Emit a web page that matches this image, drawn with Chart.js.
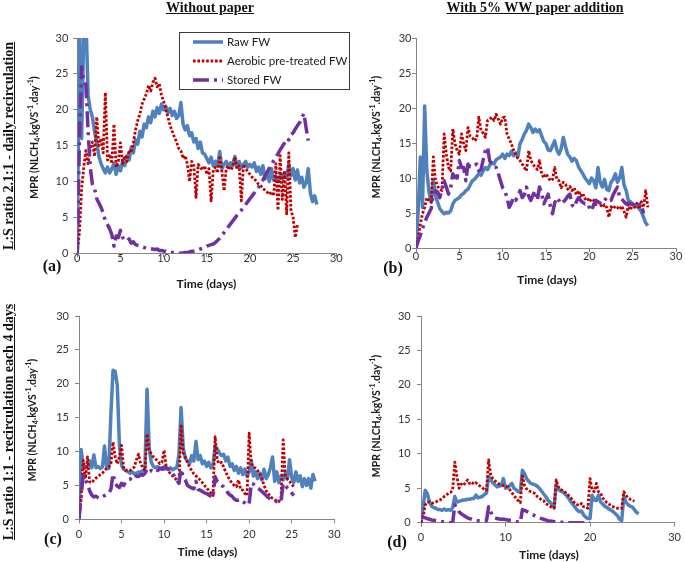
<!DOCTYPE html>
<html><head><meta charset="utf-8">
<script src="https://cdn.jsdelivr.net/npm/chart.js@4.4.1/dist/chart.umd.min.js"></script>
<style>
body{margin:0;background:#fff;}
#wrap{position:relative;width:685px;height:562px;overflow:hidden;background:#fff;}
canvas{position:absolute;}
.t{position:absolute;font-family:"Liberation Serif","Times New Roman",serif;font-weight:bold;color:#111;white-space:nowrap;transform:translate(-50%,-50%);}
.h{font-size:14px;text-decoration:underline;}
.r{font-size:14px;text-decoration:underline;transform:translate(-50%,-50%) rotate(-90deg);}
.p{font-size:16px;}
</style></head>
<body><div id="wrap">
<canvas id="ca" width="355" height="290" style="left:0;top:0;width:355px;height:290px"></canvas>
<canvas id="cb" width="340" height="290" style="left:345px;top:0;width:340px;height:290px"></canvas>
<canvas id="cc" width="345" height="272" style="left:0;top:290px;width:345px;height:272px"></canvas>
<canvas id="cd" width="340" height="272" style="left:345px;top:290px;width:340px;height:272px"></canvas>
<div class="t h" style="left:210px;top:8px">Without paper</div>
<div class="t h" style="left:535px;top:8px">With 5% WW paper addition</div>
<div class="t r" style="left:9px;top:146px">L:S ratio 2.1:1 - daily recirculation</div>
<div class="t r" style="left:9px;top:422px">L:S ratio 1:1 - recirculation each 4 days</div>
<div class="t p" style="left:52px;top:266px">(a)</div>
<div class="t p" style="left:393px;top:268px">(b)</div>
<div class="t p" style="left:53px;top:539px">(c)</div>
<div class="t p" style="left:397px;top:542px">(d)</div>
</div>
<script>
// ---- data (time in days, MPR in NLCH4.kgVS-1.day-1) ----
const seriesNames = ['Raw FW', 'Aerobic pre-treated FW', 'Stored FW'];
const xTicksMain = [0, 5, 10, 15, 20, 25, 30];
const xTicksD = [0, 10, 20, 30];
const yTicks = [0, 5, 10, 15, 20, 25, 30];
const days = [0,0.25,0.5,0.75,1,1.25,1.5,1.75,2,2.25,2.5,2.75,3,3.25,3.5,3.75,
4,4.25,4.5,4.75,5,5.25,5.5,5.75,6,6.25,6.5,6.75,7,7.25,7.5,7.75,
8,8.25,8.5,8.75,9,9.25,9.5,9.75,10,10.25,10.5,10.75,11,11.25,11.5,11.75,
12,12.25,12.5,12.75,13,13.25,13.5,13.75,14,14.25,14.5,14.75,15,15.25,15.5,15.75,
16,16.25,16.5,16.75,17,17.25,17.5,17.75,18,18.25,18.5,18.75,19,19.25,19.5,19.75,
20,20.25,20.5,20.75,21,21.25,21.5,21.75,22,22.25,22.5,22.75,23,23.25,23.5,23.75,
24,24.25,24.5,24.75,25,25.25,25.5,25.75,26,26.25,26.5,26.75,27,27.25,27.5,27.75];

// (a) daily recirculation, without paper
const aRaw = [0,32,16,31,33,22,20,19, 17,15.5,13.5,12.5,11.8,11.2,12,11.2,
11.8,12.5,11,12.2,11.5,12.8,12.2,13.6, 13,14.8,14,15.8,15.2,17,16.2,18,
17.5,19,18.2,19.8,19,20.3,19.5,20.8, 20,20.5,19.6,20.2,19.2,19.8,18.8,19.2,
21,18,17.2,17.8,16.4,16.8,15.5,16, 14.6,15.5,14,13.8,13.2,12.6,13.4,12.2,
12.8,12.2,14.2,11.8,12.4,12.8,12,12.6, 12.2,13.5,12,12.8,11.9,12.4,12.8,12,
12.4,12,12.6,11.4,12,11,12.2,10.4, 11,10,11.8,10.2,10.8,10,10.8,10.4,
11.2,10.6,12.4,10.8,11.8,10.2,11.6,9.8, 10.6,9.2,9.8,11.8,8.4,7.2,8,6.8];
const aAer = [0,3,9,12,14.3,12.5,14.5,15.5, 13.5,19,15,16,14,22.4,13,13.8,
12.5,18,12,12.8,15.4,12.5,13.6,12.8, 14.4,14,15.5,17.2,18.5,19.4,20.8,21.5,
22.2,23.4,22.6,23.8,24.4,23.2,23.6,22,
21.2,20,19,17.8,17,16.2,15.5,14.6, 14.3,13.2,13.6,12.4,10,12.8,12.2,7.8,
12.4,12,11.6,12.2,11,11.8,7.3,11.6, 12,11.2,13.6,11.4,8.7,11.8,12.2,11.6,
12,13.4,11.8,12.2,7.3,12.4,11.8,11.4, 11,10.6,10.4,10,9.6,9.4,9,8.8,
8.5,8.2,8.6,8,12.5,6,13.6,7.5, 11.5,5.5,14,6,5,2.2,4];
const aSto = [0,16,26,24,23.5,17,12,9.6, 9,7.6,7,6.4,5.6,4.5,4,3.4,
2.6,1,2.4,2.2,3.2,2.2,1.8,1.7, 2,1.4,1.6,1.2,1.1,1,0.9,0.8,
0.7,0.6,0.6,0.6,0.5,0.6,0.4,0.4, 0.3,0.3,0.2,0.1,0.1,0.05,0,0,
0,0.05,0.1,0.1,0.2,0.3,0.3,0.4, 0.5,0.6,0.7,0.8,1,1.1,1.2,1.3,
1.5,1.8,2.1,2.5,2.9,3.3,3.7,4.1, 4.5,4.9,5.3,5.7,6,6.4,6.8,7.2,
7.6,8,8.4,8.8,9.2,9.7,10.2,10.8, 11.3,11.9,12.4,12.9,13.4,13.9,14.4,14.9,
15.4,16,15.8,16.5,16.8,17.3,17.8,18.2, 18.8,19.5,17.5,15.7];

// (b) daily recirculation, with 5% paper
const bRaw = [0,5.3,13,5.8,20.3,11,8,6.5, 9.6,7.5,6.5,5.6,5.2,4.9,5.1,5,
5.3,6.3,6.8,7,7.2,7.6,7.8,8.2, 8.4,9,9.6,9.8,10.2,10.6,10.4,11,
11.5,11.2,11.8,12.2,12,12.6,12.8,13, 13.4,12.8,13.4,13.2,13.8,13.2,13.6,13,
14.9,15.5,16.3,16.8,17.7,17.2,16.5,17, 16.6,16.9,16,15.2,14.9,14,13.9,14.6,
15.3,14,13.4,14.2,15.8,14.5,13.4,13, 12.4,12.8,12.5,11.6,11.1,10.6,10,9.6,
9.2,10,9.6,8.6,11.5,9.4,8.7,9.8, 8.4,8.2,9.4,9.8,10.6,9.4,10,11.5,
9,8.2,6.8,6.6,6.3,6.1,6,5.6, 5.2,4.4,3.6,3.2];
const bAer = [0,1.5,3.4,4.9,5.8,7.2,6.8,6.6, 13,9.6,8.8,8.4,8.2,16.3,13.4,11.5,
11,17,14.9,13.9,13.4,16.3,14.9,13.9, 17.2,16,15.8,15.3,15.6,18.7,16.8,16.4,
15.8,18.2,18.4,18.7,18.2,19.1,18.4,17.7, 18.6,18.7,16.3,15.6,14.9,14,13.4,12.8,
12.5,12,11.5,11,13.9,12.5,12,11.5, 11.2,12.5,10.6,10,10.6,10.1,9.6,9.8,
11.5,9.8,9.6,8.6,9.4,9.1,8.4,8.8, 8.2,8.6,7.6,8.2,7.4,7.8,7,7.2,
6.6,7,6.8,6.2,6.6,6.3,5.8,6.2, 5.8,4.4,5.9,5.6,6,5.8,5.5,6,
5.2,4.4,6.2,5.4,6.3,5.8,6.4,5.6, 6.6,5.8,8.2,5.8];
const bSto = [0,1,1.8,2.8,3.6,4.4,5,5.6, 7.7,8.2,8,7.2,8.4,9.6,8.7,7.7,
8.6,10.6,10.1,10,12.5,11.5,11.5,9.6, 12,11.6,11.5,11.8,12,11,11.2,12.6,
13.9,14.4,12.5,11.8,11.5,11.5,10.6,9.6, 8.6,8.2,7.2,5.8,6.4,7.2,6.8,7.4,
8.2,7.2,7.6,8.7,7.4,6.8,7.6,8.2, 6.8,8.7,7.7,6.3,7,7.7,6,4.9,
6.4,7.2,6.8,6.3,6.6,6.9,7.4,7.7, 6.2,5.8,6.6,7.2,6.8,6.5,6.3,6.4,
5.8,5.3,6.2,6.8,6.6,6.4,6.3,6.8, 7.2,6.9,6.8,7.6,8.2,8.7,7.2,7,
6.6,6.3,6.4,6.3,6.2,6,5.8,6.2, 6.3,4.9];

// (c) recirculation each 4 days, without paper
const cRaw = [0,10.3,7.7,7.8,7.6,8.6,7.6,9.5, 7.6,7.8,7.5,7.7,10.8,7.6,7.5,15.5,
22,21.8,19.8,11,8,7.4,7.2,7, 6.8,7,6.7,6.8,7,6.9,7.2,7.4,
19.2,10.5,8.4,7.8,7.6,7.8,7.5,7.6, 7.4,7.6,7.4,7.6,7.3,7.5,7.6,9.6,
16.5,10.5,9,8.6,8.2,9.4,8.6,11.5, 8.8,9.4,8.2,8.6,7.8,8.4,7.6,8,
10.8,10.4,9.8,9.4,9.6,8.6,9.2,7.8, 8.2,7.2,7.8,6.8,7.6,6.6,7.4,6.4,
7,8.7,6.4,7,6,6.8,5.8,7.4, 6,6.6,7.6,9.2,5.6,7,5.4,6.4,
5.8,6.8,6,8.8,6.2,5.4,7,5.6, 6.4,4.8,6,5,6,4.6,6.6,5.6];
const cAer = [0,3,8.7,6,9.2,5.5,5.4,5.8, 6.1,6.3,6.6,6.8,7.2,7.5,7.7,8.2,
11.4,9.2,8.2,9.2,10.9,7.6,7.2,7.3, 7.2,7.5,7.7,8.8,9.6,8.2,7.6,7.2,
12.6,10.2,9.6,9.2,8.9,8.6,8.2,8.4, 10.2,7.7,7.2,6.7,6.4,6.1,5.8,5.4,
14,9.8,9.2,8.4,7.7,7.2,6.7,6.4, 6.1,5.8,5.4,5,4.6,4.3,3.8,3.5,
12.2,8.7,8.2,8.4,7.7,7,6.3,5.8, 5.3,5,4.8,5.8,4.4,4.3,3.8,3.5,
12.7,8.2,7.8,7.5,7.2,6.7,6,5, 4.2,3.8,3.3,3.1,2.9,2.7,2.6,3.2,
11.7,6.3,5.9,5.6,5.2,4.8];
const cSto = [0,3.5,6.5,5.8,5.3,4.2,3.6,3.3, 3.4,3.2,3.1,3.3,3.5,3.7,3.9,4.4,
6.7,5.3,4.9,4.7,5.3,5,5.5,5.8, 5.9,6.3,6.1,6.4,6.3,6.6,6.5,6.8,
7.4,7,7.2,7.1,7.4,7.2,7.5,7.4, 7.7,7.6,7.4,7,6.8,6.3,5.8,5.3,
7.4,6.2,5.8,5,4.8,4.6,4.5,5.6, 4.4,4.3,4.1,3.9,3.8,3.6,3.4,3.2,
6.3,5.6,5.3,5,4.8,4.4,3.9,3.6, 3.4,3,2.8,2.8,2.9,2.6,2.4,2.1,
2.3,5.3,5.2,4.8,4.6,4.4,4.1,3.8, 3.5,3.2,3,2.9,2.8,2.6,2.5,2.6,
5.3,5,4.6,4.3,3.9,3.5];

// (d) recirculation each 4 days, with 5% paper
const dRaw = [0,2.3,4.7,4.2,3,2.4,2.2,2.1, 1.9,1.9,1.8,2,1.8,1.9,1.8,2.2,
3.8,3,3.1,3.2,3.3,3.3,3.4,3.4, 3.5,3.5,4,3.6,3.7,3.8,4.1,4.3,
6.7,6.2,5.8,5.5,5.2,5.3,5.4,6.4, 5,5.1,5.4,5.7,5,4.8,4.5,4.4,
7.6,7.1,6.4,6,5.7,5.6,5.5,5.3, 5,4.6,4.2,3.8,3.3,3,2.6,2.2,
5.5,4.9,4.6,4.5,4.2,3.9,3.5,3, 2.6,2.2,1.8,1.6,1.7,1.1,0.8,0.6,
0.6,4,3.3,3.2,4,3,2.7,2.4, 2.2,2,1.8,1.6,1.3,1,0.5,0.3,
3.8,3,2.6,2.4,2.3,1.9,1.5,1.3];
const dAer = [0,0.8,2.6,3,3,2.8,2.9,3, 3.2,3.3,3.5,3.8,4,4.3,4.4,4.8,
8.8,6.7,5,5.6,5.4,5.8,6.2,5.7, 5.9,5.6,5.8,5.5,5.3,5.1,4.8,4.7,
9.1,6.9,6.4,6.1,5.8,5.6,5.5,5.4, 5.3,5.2,4.8,4.4,3.9,3.6,3.2,2.9,
6.8,5.4,4.9,4.6,4.5,4.4,4.2,3.8, 3.6,3.3,3.2,2.8,2.6,2.4,2.2,2.1,
6.2,5.2,4.8,4.7,4.5,4.2,3.9,3.6, 3.1,2.8,2.6,2.5,2.8,2.3,2.3,2.1,
6.4,4.7,4.5,5.7,4.5,4.3,3.6,3.2, 2.9,2.7,2.4,2.3,2.2,2.1,2.1,2.1,
4.5,4,3.6,3.4,3.3,3.1];
const dSto = [1,0.8,0.7,0.6,0.5,0.4,0.35,0.3, 0.25,0.2,0.15,0.1,0.1,0.05,0,0,
2.6,2.1,1.6,1.3,1.1,0.9,0.7,0.6, 0.5,0.4,0.35,0.3,0.3,0.3,0.3,0.3,
2.3,1.6,0.9,0.7,0.6,0.55,0.5,0.5, 0.45,0.4,0.35,0.3,0.2,0.15,0.1,0.05,
1.9,1.8,1.65,1.5,1.3,1.15,1,0.85, 0.7,0.6,0.5,0.4,0.3,0.25,0.2,0.15,
0.1,0.1,0.05,0.05,0,0,0,0, 0,0,0,0,0,0,0,0, 0];

// ---- styles ----
const BLUE = '#4F81BD', RED = '#C00000', PURPLE = '#7030A0';
const AXIS = '#868686';
const TICKFONT = {family: 'Lato, "DejaVu Sans", sans-serif', size: 11};
const styles = [
  {borderColor: BLUE, borderWidth: 3.5, order: 3},
  {borderColor: RED, borderWidth: 2.8, borderDash: [2.6, 1.8], order: 2},
  {borderColor: PURPLE, borderWidth: 3.5, borderDash: [16, 5, 3, 5], order: 1}
];

function pts(vals) { return vals.map((v, i) => ({x: days[i], y: v})); }

const axisTitlePlugin = {
  id: 'axisTitles',
  afterDraw(chart, args, o) {
    const ctx = chart.ctx;
    ctx.save();
    ctx.fillStyle = '#1a1a1a';
    ctx.font = 'bold 12px Lato, "DejaVu Sans", sans-serif';
    ctx.textAlign = 'center'; ctx.textBaseline = 'middle';
    ctx.fillText('Time (days)', o.xx, o.xy);
    ctx.translate(o.yx, o.yy);
    ctx.rotate(-Math.PI / 2);
    const parts = [['MPR (NLCH', 0], ['4', 1], ['.kgVS', 0], ['-1', 2], ['.day', 0], ['-1', 2], [')', 0]];
    const fs = 10.5, sm = 7;
    const f = p => 'bold ' + (p[1] ? sm : fs) + 'px Lato, "DejaVu Sans", sans-serif';
    let total = 0;
    parts.forEach(p => { ctx.font = f(p); total += ctx.measureText(p[0]).width; });
    let x = -total / 2;
    ctx.textAlign = 'left';
    parts.forEach(p => {
      ctx.font = f(p);
      const dy = p[1] === 1 ? 3 : (p[1] === 2 ? -4 : 0);
      ctx.fillText(p[0], x, dy);
      x += ctx.measureText(p[0]).width;
    });
    ctx.restore();
  }
};

const boxLegendPlugin = {
  id: 'boxLegend',
  afterDraw(chart, args, o) {
    if (!o.show) return;
    const ctx = chart.ctx;
    ctx.save();
    ctx.strokeStyle = '#3a3a3a'; ctx.lineWidth = 1;
    ctx.strokeRect(179.5, 32.5, 170, 57);
    const rows = [42, 61, 80];
    chart.data.datasets.forEach((ds, i) => {
      ctx.beginPath();
      ctx.setLineDash(ds.borderDash || []);
      ctx.strokeStyle = ds.borderColor; ctx.lineWidth = ds.borderWidth;
      ctx.moveTo(193, rows[i]); ctx.lineTo(223, rows[i]); ctx.stroke();
      ctx.setLineDash([]);
      ctx.fillStyle = '#1a1a1a';
      ctx.font = '11.5px Lato, "DejaVu Sans", sans-serif';
      ctx.textBaseline = 'middle'; ctx.textAlign = 'left';
      ctx.fillText(ds.label, 227, rows[i]);
    });
    ctx.restore();
  }
};

function makeChart(id, raw, aer, sto, c) {
  const sets = [raw, aer, sto].map((v, i) => Object.assign({
    label: seriesNames[i], data: pts(v), pointRadius: 0, tension: 0, fill: false,
    borderJoinStyle: 'round'
  }, styles[i]));
  return new Chart(document.getElementById(id), {
    type: 'line',
    data: {datasets: sets},
    options: {
      responsive: false, animation: false, devicePixelRatio: 1,
      parsing: false,
      layout: {padding: {left: 0, top: c.top, right: c.right, bottom: 0}},
      plugins: {
        legend: {display: false}, tooltip: {enabled: false},
        axisTitles: c.titles, boxLegend: {show: !!c.legend}
      },
      scales: {
        x: {
          type: 'linear', min: 0, max: 30,
          afterBuildTicks: s => { s.ticks = c.xt.map(v => ({value: v})); },
          ticks: {padding: c.xPad, font: TICKFONT, color: '#333', maxRotation: 0},
          grid: {drawOnChartArea: false, tickLength: 4, color: AXIS},
          border: {color: AXIS},
          afterFit: s => { s.height = c.xh; }
        },
        y: {
          type: 'linear', min: 0, max: 30,
          afterBuildTicks: s => { s.ticks = yTicks.map(v => ({value: v})); },
          ticks: {padding: c.yPad, font: TICKFONT, color: '#333'},
          grid: {drawOnChartArea: false, tickLength: 4, color: AXIS},
          border: {color: AXIS},
          afterFit: s => { s.width = c.yw; }
        }
      }
    },
    plugins: [axisTitlePlugin, boxLegendPlugin]
  });
}

makeChart('ca', aRaw, aAer, aSto, {top: 38, right: 18.7, yw: 77.3, xh: 36.7, xPad: -5, yPad: 5, xt: xTicksMain, legend: true,
  titles: {xx: 206.5, xy: 284, yx: 35, yy: 137.5}});
makeChart('cb', bRaw, bAer, bSto, {top: 38, right: 9, yw: 71, xh: 42, xPad: -2.4, yPad: 0.5, xt: xTicksMain,
  titles: {xx: 202, xy: 280, yx: 32, yy: 137}});
makeChart('cc', cRaw, cAer, cSto, {top: 26, right: 9, yw: 79, xh: 42.7, xPad: 4.4, yPad: 6, xt: xTicksMain,
  titles: {xx: 207.5, xy: 262.3, yx: 33, yy: 130}});
makeChart('cd', dRaw, dAer, dSto, {top: 26, right: 6.7, yw: 76, xh: 39.3, xPad: 4.1, yPad: 6.3, xt: xTicksD,
  titles: {xx: 204, xy: 265, yx: 32, yy: 126}});
</script>
</body></html>
